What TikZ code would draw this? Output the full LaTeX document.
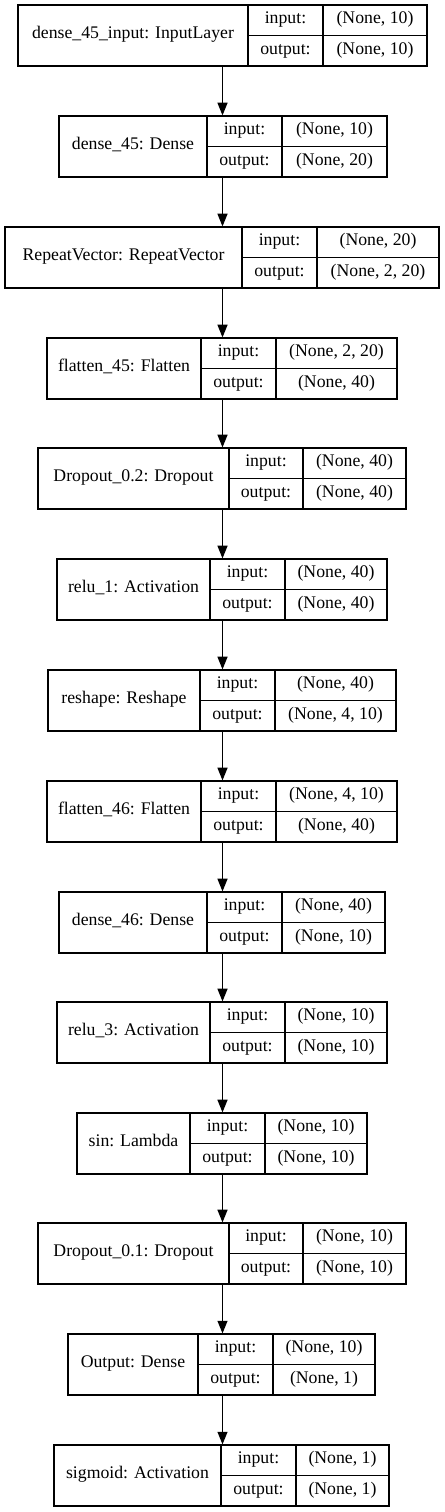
\documentclass[tikz,border=0pt]{standalone}
\usepackage{fontspec}
\setmainfont{Liberation Serif}
\usepackage{tikz}
\usetikzlibrary{arrows.meta,fit}
\tikzset{>={Triangle[length=9.5pt,width=7.5pt]}}
\tikzset{
    record/.style={rectangle,draw,inner sep=0pt,line width=0.9pt},
    cell/.style={line width=0.9pt},
    lbl/.style={rectangle,draw=none,inner sep=0pt,text height=0.7em,text depth=0.2em,
                font=\fontsize{13.3}{16}\selectfont},
    flow/.style={->,line width=0.9pt},
}
% #1 id, #2 top, #3 left, #4 first split, #5 second split, #6 right,
% #7 layer text, #8 input shape, #9 output shape
\newcommand{\layer}[9]{%
    \coordinate (#1-nw) at (#3,#2);
    \coordinate (#1-se) at (#6,#2+61);
    \node[record,fit=(#1-nw)(#1-se)] (#1) {};
    \draw[cell] (#4,#2) -- (#4,#2+61) (#5,#2) -- (#5,#2+61) (#4,#2+30.5) -- (#6,#2+30.5);
    \node[lbl] (#1-name) at ({(#3+#4)/2},#2+30.5) {#7};
    \node[lbl] (#1-in) at ({(#4+#5)/2},#2+15.5) {input:};
    \node[lbl] (#1-out) at ({(#4+#5)/2},#2+46) {output:};
    \node[lbl] (#1-inval) at ({(#5+#6)/2},#2+15.5) {#8};
    \node[lbl] (#1-outval) at ({(#5+#6)/2},#2+46) {#9};
}

\begin{document}
\begin{tikzpicture}[x=0.75pt,y=-0.75pt]
        \useasboundingbox (0,0) rectangle (444,1512);
        \coordinate (axis) at (222.5,0);

        \layer{l1}{5}{18}{248}{323}{427}{dense\_45\_input: InputLayer}{(None, 10)}{(None, 10)}
        \layer{l2}{116}{59}{207}{282}{387}{dense\_45: Dense}{(None, 10)}{(None, 20)}
        \layer{l3}{227}{5}{242}{317}{439}{RepeatVector: RepeatVector}{(None, 20)}{(None, 2, 20)}
        \layer{l4}{338}{47}{201}{276}{397}{flatten\_45: Flatten}{(None, 2, 20)}{(None, 40)}
        \layer{l5}{448}{38}{229}{303}{406}{Dropout\_0.2: Dropout}{(None, 40)}{(None, 40)}
        \layer{l6}{559}{57}{210}{285}{387}{relu\_1: Activation}{(None, 40)}{(None, 40)}
        \layer{l7}{670}{48}{200}{275}{396}{reshape: Reshape}{(None, 40)}{(None, 4, 10)}
        \layer{l8}{781}{47}{201}{276}{397}{flatten\_46: Flatten}{(None, 4, 10)}{(None, 40)}
        \layer{l9}{892}{59}{207}{282}{385}{dense\_46: Dense}{(None, 40)}{(None, 10)}
        \layer{l10}{1002}{57}{210}{285}{387}{relu\_3: Activation}{(None, 10)}{(None, 10)}
        \layer{l11}{1113}{77}{190}{265}{367}{sin: Lambda}{(None, 10)}{(None, 10)}
        \layer{l12}{1223}{38}{229}{303}{406}{Dropout\_0.1: Dropout}{(None, 10)}{(None, 10)}
        \layer{l13}{1334}{68}{198}{273}{375}{Output: Dense}{(None, 10)}{(None, 1)}
        \layer{l14}{1445}{54}{221}{296}{389}{sigmoid: Activation}{(None, 1)}{(None, 1)}

        \draw[flow] (l1.south -| axis) -- (l2.north -| axis);
        \draw[flow] (l2.south -| axis) -- (l3.north -| axis);
        \draw[flow] (l3.south -| axis) -- (l4.north -| axis);
        \draw[flow] (l4.south -| axis) -- (l5.north -| axis);
        \draw[flow] (l5.south -| axis) -- (l6.north -| axis);
        \draw[flow] (l6.south -| axis) -- (l7.north -| axis);
        \draw[flow] (l7.south -| axis) -- (l8.north -| axis);
        \draw[flow] (l8.south -| axis) -- (l9.north -| axis);
        \draw[flow] (l9.south -| axis) -- (l10.north -| axis);
        \draw[flow] (l10.south -| axis) -- (l11.north -| axis);
        \draw[flow] (l11.south -| axis) -- (l12.north -| axis);
        \draw[flow] (l12.south -| axis) -- (l13.north -| axis);
        \draw[flow] (l13.south -| axis) -- (l14.north -| axis);
\end{tikzpicture}
\end{document}
